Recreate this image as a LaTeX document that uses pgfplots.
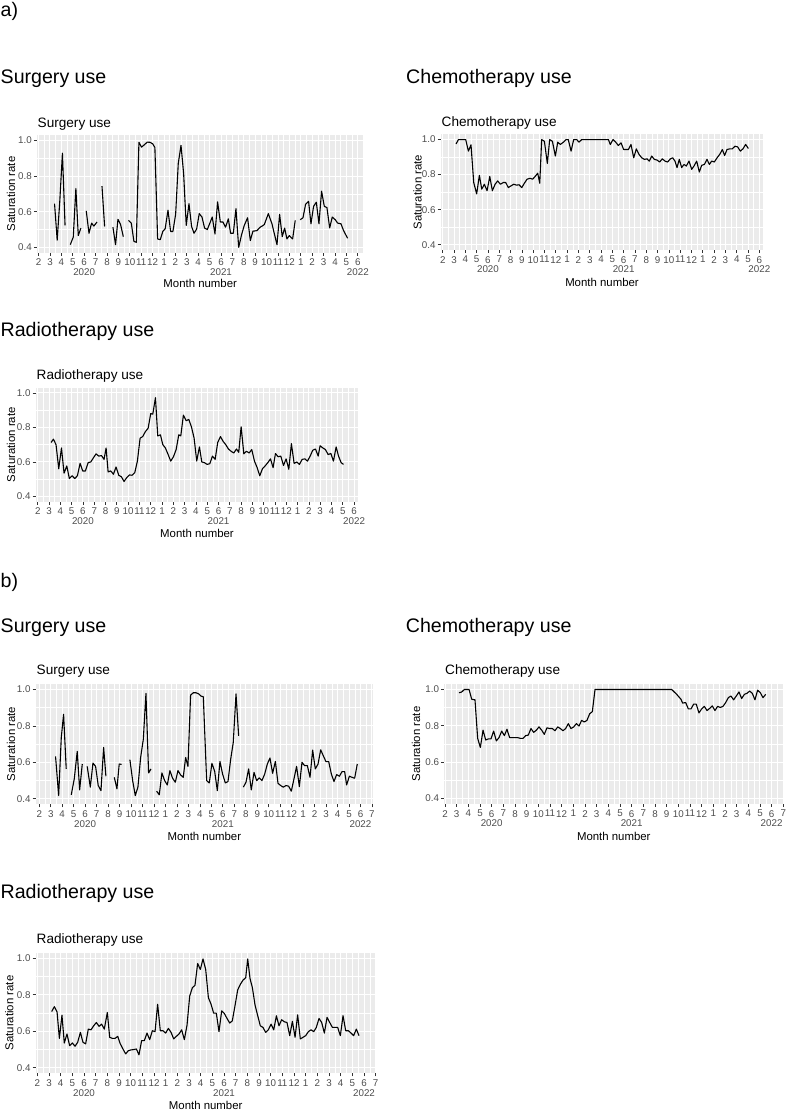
\documentclass[border=0pt]{standalone}
\usepackage{fontspec}
\setmainfont{Liberation Sans}
\usepackage{pgfplots}
\pgfplotsset{compat=1.18}
\definecolor{ggbg}{HTML}{EBEBEB}
\definecolor{ggtext}{HTML}{4D4D4D}
\definecolor{ggtick}{HTML}{333333}
\newcommand\bigT{\fontsize{19.6}{22}\selectfont}
\newcommand\midT{\fontsize{13.6}{15}\selectfont}
\newcommand\axT{\fontsize{11.4}{13}\selectfont}
\pgfplotsset{
  ggbase/.style={
    scale only axis,
    anchor=south west,
    axis background/.style={fill=ggbg},
    axis line style={draw=none},
    grid=both,
    major grid style={white, line width=1pt},
    minor grid style={white, line width=0.5pt},
    tick align=outside,
    tick pos=left,
    major tick length=3pt,
    minor tick length=0pt,
    tick style={color=ggtick, line width=0.7pt},
    ymin=0.37, ymax=1.03,
    ytick={0.4,0.6,0.8,1.0},
    yticklabels={0.4,0.6,0.8,1.0},
    minor ytick={0.5,0.7,0.9},
    /pgf/number format/assume math mode=true,
    yticklabel style={font=\fontsize{9.8}{10}\selectfont, color=ggtext, anchor=east, inner sep=0pt, xshift=-2pt},
    xticklabel style={font=\fontsize{9.8}{9.8}\selectfont, color=ggtext, align=center, anchor=north, inner sep=0pt, yshift=-3pt},
    unbounded coords=jump,
    cycle list={{black, mark=none}},
    every axis plot post/.append style={black, mark=none, line width=1.1pt, line join=round},
  },
  gga/.style={ggbase,
    xtick={2,...,30},
    minor xtick={2.5,3.5,...,29.5},
    xticklabels={2,3,4,5,{6\\2020},7,8,9,10,11,12,1,2,3,4,5,{6\\2021},7,8,9,10,11,12,1,2,3,4,5,{6\\2022}},
  },
  ggb/.style={ggbase,
    xtick={2,...,31},
    minor xtick={2.5,3.5,...,30.5},
    xticklabels={2,3,4,5,{6\\2020},7,8,9,10,11,12,1,2,3,4,5,{6\\2021},7,8,9,10,11,12,1,2,3,4,5,{6\\2022},7},
  },
}
\begin{document}
\begin{tikzpicture}
\useasboundingbox (0,0) rectangle (789pt,1112pt);

% ---------- a) Surgery ----------
\begin{axis}[gga, at={(37pt,859.3pt)}, width=326.3pt, height=117.7pt, xmin=1.86, xmax=30.48]
\addplot table {
3.40 0.645
3.63 0.440
3.86 0.660
4.09 0.928
4.32 0.523
nan nan
4.78 0.415
5.04 0.457
5.27 0.730
5.48 0.466
5.71 0.508
nan nan
6.18 0.604
6.42 0.479
6.65 0.536
6.85 0.519
7.12 0.542
nan nan
7.56 0.743
7.79 0.517
nan nan
8.52 0.513
8.75 0.415
8.96 0.557
9.19 0.528
9.43 0.460
nan nan
9.89 0.551
10.13 0.536
10.36 0.434
10.57 0.428
10.80 0.989
11.03 0.962
11.27 0.975
11.53 0.990
11.77 0.989
12.00 0.981
12.20 0.960
12.44 0.447
12.67 0.443
12.90 0.490
13.10 0.504
13.35 0.608
13.58 0.489
13.78 0.489
14.02 0.585
14.25 0.870
14.49 0.972
14.72 0.815
14.95 0.523
15.19 0.645
15.42 0.517
15.63 0.479
15.86 0.502
16.09 0.589
16.33 0.570
16.56 0.508
16.80 0.500
17.00 0.532
17.23 0.570
17.47 0.475
17.70 0.655
17.94 0.542
18.17 0.542
18.40 0.513
18.64 0.560
18.84 0.479
19.08 0.479
19.31 0.617
19.55 0.400
19.80 0.470
20.04 0.523
20.33 0.566
20.57 0.438
20.80 0.491
20.98 0.492
21.15 0.494
21.44 0.513
21.62 0.520
21.80 0.528
22.15 0.589
22.47 0.532
22.61 0.494
22.91 0.415
23.14 0.585
23.37 0.460
23.58 0.508
23.78 0.447
23.99 0.466
24.28 0.447
24.51 0.551
nan nan
24.95 0.555
25.19 0.566
25.42 0.642
25.68 0.658
25.89 0.532
26.12 0.630
26.36 0.653
26.59 0.532
26.82 0.715
27.06 0.630
27.29 0.623
27.53 0.509
27.76 0.570
28.02 0.555
28.23 0.536
28.52 0.532
28.75 0.494
29.10 0.451
};
\end{axis}

% ---------- a) Chemotherapy ----------
\begin{axis}[gga, at={(440.7pt,862pt)}, width=322.6pt, height=115.7pt, xmin=1.82, xmax=30.35]
\addplot table {
3.18 0.975
3.39 1.000
3.68 1.000
4.03 1.000
4.27 0.934
4.50 0.970
4.74 0.755
5.00 0.690
5.24 0.796
5.45 0.717
5.68 0.745
5.92 0.708
6.16 0.789
6.39 0.708
6.63 0.745
6.86 0.764
7.10 0.745
7.36 0.755
7.57 0.755
7.80 0.726
8.04 0.736
8.28 0.745
8.54 0.740
8.75 0.742
8.99 0.726
9.22 0.751
9.46 0.774
9.72 0.779
9.96 0.774
10.16 0.789
10.40 0.808
10.58 0.751
10.75 1.000
10.99 0.990
11.25 0.864
11.46 1.000
11.70 0.990
11.96 0.906
12.17 0.985
12.40 0.972
12.67 0.985
12.90 1.000
13.10 1.000
13.35 0.934
13.58 1.000
13.85 1.000
14.05 0.985
14.29 1.000
16.65 1.000
16.82 0.972
17.06 1.000
17.30 0.985
17.53 0.966
17.77 0.981
18.00 0.943
18.21 0.943
18.42 0.943
18.65 0.972
18.89 0.896
19.12 0.947
19.36 0.915
19.60 0.896
19.83 0.887
20.07 0.890
20.27 0.877
20.48 0.906
20.71 0.887
20.95 0.883
21.18 0.872
21.42 0.890
21.66 0.877
21.89 0.872
22.13 0.890
22.34 0.896
22.54 0.877
22.72 0.840
22.92 0.887
23.13 0.840
23.34 0.858
23.54 0.849
23.78 0.877
24.02 0.830
24.22 0.849
24.46 0.877
24.69 0.815
24.90 0.853
25.14 0.858
25.37 0.887
25.58 0.858
25.78 0.877
26.02 0.872
26.26 0.896
26.49 0.915
26.73 0.943
26.93 0.909
27.14 0.943
27.38 0.947
27.61 0.947
27.85 0.962
28.08 0.958
28.32 0.934
28.55 0.947
28.79 0.972
29.03 0.949
};
\end{axis}

% ---------- a) Radiotherapy ----------
\begin{axis}[gga, at={(35.7pt,610.3pt)}, width=322.6pt, height=114pt, xmin=1.82, xmax=30.37]
\addplot table {
3.18 0.713
3.39 0.732
3.62 0.700
3.86 0.561
4.10 0.681
4.33 0.535
4.57 0.577
4.80 0.504
5.04 0.520
5.28 0.504
5.51 0.520
5.75 0.592
5.98 0.548
6.22 0.548
6.46 0.596
6.69 0.600
6.93 0.624
7.16 0.647
7.40 0.634
7.64 0.637
7.87 0.615
8.05 0.681
8.23 0.542
8.46 0.548
8.70 0.529
8.93 0.571
9.17 0.523
9.41 0.514
9.64 0.487
9.88 0.510
10.11 0.525
10.35 0.523
10.59 0.539
10.82 0.605
11.06 0.738
11.29 0.747
11.53 0.776
11.77 0.795
12.00 0.880
12.18 0.877
12.42 0.972
12.62 0.751
12.86 0.757
13.07 0.700
13.30 0.681
13.54 0.643
13.77 0.605
14.01 0.630
14.25 0.672
14.48 0.757
14.66 0.751
14.89 0.871
15.13 0.839
15.37 0.846
15.60 0.804
15.84 0.738
16.07 0.605
16.31 0.687
16.52 0.600
16.75 0.596
16.99 0.586
17.23 0.590
17.46 0.634
17.70 0.615
17.93 0.713
18.17 0.747
18.41 0.719
18.64 0.700
18.88 0.675
19.11 0.662
19.35 0.652
19.59 0.675
19.79 0.656
20.00 0.804
20.24 0.647
20.47 0.662
20.71 0.652
20.94 0.672
21.18 0.605
21.42 0.567
21.65 0.520
21.89 0.561
22.12 0.577
22.36 0.596
22.60 0.618
22.83 0.567
23.04 0.649
23.27 0.630
23.51 0.634
23.75 0.580
23.98 0.618
24.22 0.558
24.45 0.706
24.69 0.592
24.93 0.600
25.16 0.586
25.40 0.615
25.64 0.618
25.87 0.605
26.11 0.634
26.34 0.668
26.58 0.675
26.82 0.634
26.99 0.694
27.23 0.681
27.46 0.672
27.70 0.643
27.94 0.649
28.17 0.605
28.41 0.687
28.62 0.634
28.85 0.596
29.06 0.586
};
\end{axis}

% ---------- b) Surgery ----------
\begin{axis}[ggb, at={(35.7pt,307.7pt)}, width=337.3pt, height=120.3pt, xmin=1.69, xmax=31.09]
\addplot table {
3.42 0.633
3.69 0.418
3.92 0.736
4.12 0.864
4.35 0.564
nan nan
4.79 0.422
5.05 0.509
5.31 0.660
5.52 0.449
5.75 0.591
nan nan
6.18 0.578
6.45 0.464
6.68 0.596
6.91 0.578
7.14 0.473
7.38 0.445
7.61 0.682
7.81 0.524
nan nan
8.54 0.518
8.77 0.455
8.97 0.591
9.18 0.589
nan nan
9.90 0.615
10.14 0.500
10.37 0.418
10.60 0.464
10.83 0.624
11.07 0.727
11.30 0.978
11.53 0.542
11.74 0.564
nan nan
12.23 0.442
12.46 0.422
12.69 0.542
12.93 0.500
13.16 0.476
13.39 0.555
13.62 0.513
13.86 0.491
14.09 0.555
14.32 0.531
14.55 0.518
14.76 0.627
14.96 0.578
15.19 0.969
15.43 0.982
15.66 0.982
15.89 0.976
16.09 0.964
16.30 0.960
16.59 0.500
16.82 0.487
17.05 0.595
17.29 0.551
17.52 0.445
17.75 0.605
17.98 0.536
18.22 0.487
18.45 0.495
18.68 0.615
18.91 0.709
19.15 0.976
19.38 0.745
nan nan
19.79 0.464
20.02 0.491
20.25 0.564
20.48 0.449
20.72 0.545
20.95 0.500
21.18 0.515
21.41 0.500
21.65 0.536
21.88 0.591
22.11 0.624
22.34 0.540
22.58 0.605
22.81 0.485
23.04 0.473
23.27 0.464
23.51 0.473
23.74 0.469
23.97 0.442
24.20 0.509
24.43 0.578
24.67 0.467
24.90 0.600
25.13 0.582
25.37 0.582
25.60 0.518
25.83 0.667
26.06 0.564
26.30 0.591
26.53 0.669
26.76 0.636
26.99 0.604
27.23 0.604
27.46 0.536
27.69 0.495
27.92 0.533
28.16 0.524
28.39 0.549
28.62 0.549
28.79 0.476
29.03 0.524
29.26 0.518
29.49 0.513
29.72 0.591
};
\end{axis}

% ---------- b) Chemotherapy ----------
\begin{axis}[ggb, at={(444.3pt,308pt)}, width=339pt, height=120pt, xmin=1.94, xmax=31.0]
\addplot table {
3.20 0.982
3.43 0.986
3.66 1.000
4.06 1.000
4.29 0.946
4.57 0.943
4.80 0.731
5.03 0.681
5.26 0.776
5.49 0.722
5.71 0.728
5.94 0.728
6.17 0.771
6.40 0.717
6.63 0.735
6.86 0.771
7.09 0.746
7.31 0.781
7.54 0.735
7.77 0.735
8.00 0.735
8.23 0.735
8.46 0.731
8.69 0.731
8.91 0.746
9.14 0.749
9.37 0.785
9.60 0.764
9.83 0.776
10.06 0.794
10.29 0.776
10.51 0.753
10.74 0.789
10.97 0.785
11.20 0.785
11.43 0.773
11.66 0.794
11.89 0.785
12.11 0.773
12.34 0.785
12.57 0.812
12.80 0.785
13.03 0.794
13.26 0.812
13.49 0.799
13.71 0.830
13.94 0.821
14.17 0.830
14.40 0.866
14.63 0.878
14.86 1.000
21.43 1.000
21.86 0.973
22.23 0.946
22.37 0.925
22.63 0.928
22.86 0.893
23.09 0.893
23.31 0.919
23.54 0.919
23.77 0.871
24.00 0.893
24.23 0.907
24.46 0.884
24.69 0.896
24.91 0.910
25.14 0.884
25.37 0.907
25.60 0.901
25.83 0.907
26.06 0.928
26.29 0.955
26.51 0.964
26.74 0.943
26.97 0.964
27.20 0.986
27.43 0.950
27.66 0.973
27.89 0.979
28.11 0.991
28.34 0.979
28.57 0.943
28.80 0.996
29.03 0.982
29.26 0.955
29.49 0.973
};
\end{axis}

% ---------- b) Radiotherapy ----------
\begin{axis}[ggb, at={(35.7pt,38.7pt)}, width=340pt, height=120.6pt, xmin=1.86, xmax=31.0]
\addplot table {
3.23 0.708
3.46 0.735
3.69 0.706
3.89 0.561
4.11 0.688
4.31 0.536
4.54 0.585
4.77 0.521
5.00 0.536
5.23 0.518
5.46 0.540
5.69 0.594
5.91 0.540
6.14 0.531
6.37 0.612
6.60 0.608
6.83 0.630
7.06 0.648
7.29 0.627
7.51 0.639
7.74 0.612
8.00 0.703
8.20 0.567
8.43 0.561
8.66 0.561
8.89 0.572
9.11 0.531
9.34 0.503
9.57 0.476
9.80 0.494
10.03 0.498
10.26 0.500
10.49 0.503
10.71 0.471
10.94 0.549
11.17 0.549
11.40 0.590
11.63 0.554
11.86 0.603
12.09 0.598
12.31 0.748
12.54 0.603
12.77 0.603
13.00 0.590
13.23 0.616
13.46 0.594
13.69 0.558
13.91 0.572
14.14 0.585
14.37 0.608
14.60 0.554
14.83 0.634
15.06 0.793
15.29 0.839
15.51 0.851
15.74 0.971
15.97 0.938
16.20 0.996
16.43 0.938
16.66 0.784
16.89 0.748
17.11 0.699
17.34 0.699
17.57 0.598
17.80 0.712
18.03 0.697
18.26 0.670
18.49 0.645
18.71 0.657
18.94 0.739
19.17 0.826
19.40 0.857
19.63 0.880
19.86 0.893
20.03 0.996
20.23 0.888
20.43 0.839
20.66 0.743
20.89 0.685
21.11 0.630
21.34 0.621
21.57 0.594
21.80 0.608
22.03 0.639
22.26 0.608
22.49 0.685
22.71 0.630
22.94 0.663
23.17 0.652
23.40 0.648
23.63 0.576
23.86 0.654
24.09 0.567
24.31 0.690
24.54 0.558
24.77 0.567
25.00 0.576
25.23 0.598
25.46 0.608
25.69 0.598
25.91 0.621
26.14 0.670
26.37 0.648
26.60 0.590
26.83 0.676
27.06 0.648
27.29 0.621
27.51 0.621
27.74 0.621
27.97 0.576
28.20 0.685
28.43 0.603
28.66 0.603
28.89 0.590
29.11 0.576
29.34 0.612
29.57 0.576
};
\end{axis}

% ---------- texts ----------
\begin{scope}[every node/.style={inner sep=0pt}]
\node[anchor=base west, font=\bigT] at (0.5pt,1095.5pt) {a)};
\node[anchor=base west, font=\bigT] at (0.5pt,1028.5pt) {Surgery use};
\node[anchor=base west, font=\bigT] at (406pt,1028.5pt) {Chemotherapy use};
\node[anchor=base west, font=\bigT] at (0.5pt,775.3pt) {Radiotherapy use};
\node[anchor=base west, font=\bigT] at (0.5pt,524pt) {b)};
\node[anchor=base west, font=\bigT] at (0.5pt,479.7pt) {Surgery use};
\node[anchor=base west, font=\bigT] at (405.7pt,479.7pt) {Chemotherapy use};
\node[anchor=base west, font=\bigT] at (0.5pt,213.7pt) {Radiotherapy use};

\node[anchor=base west, font=\midT] at (37.5pt,984.7pt) {Surgery use};
\node[anchor=base west, font=\midT] at (441.5pt,985.5pt) {Chemotherapy use};
\node[anchor=base west, font=\midT] at (36.5pt,732.7pt) {Radiotherapy use};
\node[anchor=base west, font=\midT] at (36.5pt,437pt) {Surgery use};
\node[anchor=base west, font=\midT] at (445pt,437pt) {Chemotherapy use};
\node[anchor=base west, font=\midT] at (36.5pt,168.7pt) {Radiotherapy use};

\node[anchor=base, rotate=90, font=\axT] at (15pt,918.1pt) {Saturation rate};
\node[anchor=base, rotate=90, font=\axT] at (421.7pt,919.8pt) {Saturation rate};
\node[anchor=base, rotate=90, font=\axT] at (15pt,667.3pt) {Saturation rate};
\node[anchor=base, rotate=90, font=\axT] at (15pt,367.8pt) {Saturation rate};
\node[anchor=base, rotate=90, font=\axT] at (420pt,368pt) {Saturation rate};
\node[anchor=base, rotate=90, font=\axT] at (13.3pt,99pt) {Saturation rate};

\node[anchor=base, font=\axT] at (200.2pt,824.6pt) {Month number};
\node[anchor=base, font=\axT] at (602pt,825.2pt) {Month number};
\node[anchor=base, font=\axT] at (197pt,574.6pt) {Month number};
\node[anchor=base, font=\axT] at (204.4pt,271pt) {Month number};
\node[anchor=base, font=\axT] at (613.8pt,271pt) {Month number};
\node[anchor=base, font=\axT] at (205.7pt,2pt) {Month number};
\end{scope}
\end{tikzpicture}
\end{document}
